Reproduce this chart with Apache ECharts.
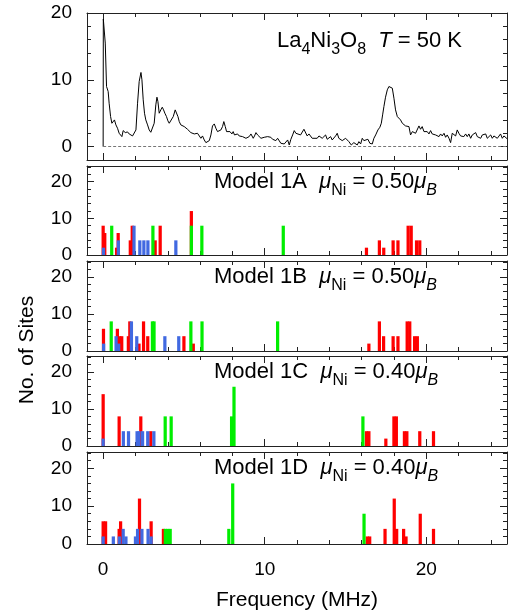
<!DOCTYPE html>
<html><head><meta charset="utf-8">
<script src="https://cdn.jsdelivr.net/npm/echarts@6/dist/echarts.min.js"></script>
<style>html,body{margin:0;padding:0;background:#fff}#c{width:508px;height:614px}</style>
</head><body><div id="c"></div>
<script>
// ---- measured spectrum (La4Ni3O8, T = 50 K) ----
const specFreq = [0,0.01,0.06,0.13,0.21,0.31,0.37,0.46,0.54,0.62,0.70,0.79,0.89,0.99,1.16,1.24,1.37,1.51,1.61,1.72,1.82,1.92,2.03,2.13,2.23,2.34,2.40,2.48,2.56,2.64,2.75,2.85,2.95,3.06,3.16,3.26,3.33,3.39,3.47,3.57,3.66,3.74,3.82,3.92,4.01,4.09,4.21,4.34,4.46,4.54,4.63,4.71,4.81,4.92,5.02,5.12,5.22,5.33,5.43,5.53,5.64,5.74,5.84,5.95,6.05,6.15,6.26,6.36,6.46,6.57,6.67,6.77,6.88,6.98,7.08,7.19,7.29,7.39,7.47,7.56,7.64,7.76,7.85,7.97,8.05,8.13,8.22,8.32,8.42,8.53,8.63,8.73,8.84,8.94,9.04,9.15,9.21,9.29,9.37,9.46,9.56,9.66,9.77,9.87,9.97,10.07,10.18,10.28,10.38,10.49,10.59,10.69,10.80,10.90,11.00,11.11,11.21,11.31,11.42,11.52,11.62,11.73,11.83,11.93,12.04,12.22,12.43,12.53,12.63,12.74,12.94,13.05,13.25,13.36,13.56,13.77,13.87,14.08,14.18,14.39,14.49,14.59,14.80,15.01,15.21,15.36,15.52,15.73,15.83,15.94,16.04,16.14,16.25,16.39,16.51,16.66,16.76,16.87,17.01,17.13,17.22,17.30,17.38,17.48,17.59,17.69,17.79,17.90,18.00,18.10,18.21,18.31,18.41,18.52,18.62,18.72,18.83,18.93,19.03,19.14,19.24,19.34,19.44,19.55,19.65,19.75,19.86,19.96,20.06,20.17,20.27,20.37,20.48,20.58,20.68,20.79,20.89,20.99,21.10,21.20,21.30,21.41,21.51,21.61,21.71,21.82,21.92,22.02,22.13,22.23,22.33,22.44,22.54,22.64,22.75,22.85,22.95,23.06,23.16,23.26,23.37,23.47,23.57,23.68,23.78,23.88,23.99,24.09,24.19,24.30,24.40,24.60,24.71,24.81,24.91,25.00];
const specAmp = [0,19.1,19.0,15.5,9.0,8.25,6.5,4.5,3.5,3.75,4.0,3.25,2.75,2.0,1.5,2.4,2.1,2.2,1.9,2.1,1.6,1.75,2.5,6.5,9.75,11.1,10.0,7.0,5.0,4.0,3.25,2.5,2.15,2.25,3.5,6.25,7.4,6.75,5.0,5.5,5.9,5.5,5.0,4.5,3.85,3.5,3.6,4.5,5.5,5.6,4.5,3.75,3.25,3.5,3.0,2.75,2.6,2.4,2.1,2.1,1.9,1.75,2.0,1.75,1.25,1.6,1.0,0.6,0.5,0.9,1.75,3.1,3.4,2.75,2.25,2.0,2.5,3.0,3.75,3.0,2.25,2.1,2.25,1.9,2.25,1.75,1.5,1.9,1.6,1.75,1.5,1.75,1.25,1.0,1.5,1.9,2.1,1.25,1.6,2.1,1.75,1.6,1.25,1.0,1.4,1.25,1.5,1.25,1.4,1.1,1.25,0.9,1.25,1.0,0.5,0.75,0.4,0.6,1.0,0.25,1.1,1.75,2.4,2.0,2.1,1.75,2.6,2.75,1.6,1.9,1.25,1.5,1.25,1.6,1.25,1.75,1.1,1.5,1.0,1.6,2.0,1.25,0.9,1.25,0.75,0.25,0.6,0.25,0.75,0.4,1.25,0.9,0.75,1.1,0.5,0.4,1.25,1.75,2.5,2.9,3.5,4.75,6.0,7.4,8.5,9.0,9.1,8.75,7.25,5.5,4.5,4.25,4.0,3.5,3.4,3.1,3.25,3.0,1.75,2.25,2.4,2.0,2.1,3.1,2.6,3.0,2.25,2.0,2.25,1.9,2.4,1.9,2.1,1.75,2.0,1.5,1.9,1.6,2.0,1.4,1.75,1.25,0.6,2.0,1.9,1.6,2.5,2.0,1.6,1.75,1.5,1.9,1.5,1.9,1.25,1.75,1.6,2.1,1.5,1.6,1.25,1.75,1.5,1.9,1.25,1.5,1.75,1.25,1.6,1.4,1.25,1.9,1.25,1.6,1.4,1.2];

// ---- model histograms: [frequency (MHz), no. of sites] ----
const m1A_red = [[0.0,8],[0.1,6],[0.83,2],[0.93,6],[1.68,4],[1.8,8],[3.22,4],[3.53,8],[5.46,12],[16.3,2],[17.1,4],[17.37,2],[17.95,4],[18.25,4],[18.88,8],[19.07,8],[19.4,4],[19.6,4]];
const m1A_green = [[0.53,8],[3.08,8],[5.46,8],[6.11,8],[11.15,8]];
const m1A_blue = [[0.02,2],[0.94,4],[1.91,8],[2.27,4],[2.52,4],[2.77,4],[4.5,4]];

const m1B_red = [[0.02,6],[0.88,6],[1.02,4],[1.15,4],[1.56,4],[1.65,8],[2.22,2],[2.5,8],[2.76,4],[5.0,4],[5.58,2],[16.45,2],[17.1,8],[17.36,4],[17.95,4],[18.25,4],[18.82,8],[18.98,8],[19.28,4],[19.45,4]];
const m1B_green = [[0.5,8],[3.05,8],[3.15,8],[5.43,8],[6.12,8],[10.8,8]];
const m1B_blue = [[0.03,2],[0.8,4],[0.96,2],[1.75,8],[2.08,4],[3.82,4],[4.68,4]];

const m1C_red = [[0.0,14],[0.99,8],[2.33,8],[2.95,4],[16.3,4],[16.45,4],[17.5,2],[18.0,8],[18.15,8],[18.65,4],[18.8,4],[19.6,4],[20.45,4]];
const m1C_green = [[3.84,8],[4.21,8],[7.95,8],[8.1,16],[16.08,8]];
const m1C_blue = [[0.0,2],[1.25,4],[1.57,4],[2.1,4],[2.22,4],[2.44,4],[2.76,4],[3.14,4]];

const m1D_red = [[0.0,6],[0.15,6],[0.99,4],[1.08,6],[2.25,12],[2.97,6],[3.73,4],[16.35,2],[16.5,2],[17.45,4],[18.02,12],[18.17,4],[18.6,4],[18.75,2],[19.63,8],[20.45,4]];
const m1D_green = [[3.85,4],[4.0,4],[4.15,4],[7.78,4],[8.02,16],[16.15,8]];
const m1D_blue = [[0.0,2],[0.63,2],[1.0,2],[1.24,4],[1.41,2],[2.0,2],[2.13,4],[2.4,4],[2.78,4],[2.97,2]];

// ---- ticks / labels ----
const xMajorTicks = [0,10,20];
const xMinorTicks = [0,2,4,6,8,10,12,14,16,18,20,22,24];
const xTickLabels = [0,10,20];
const yMajorTicks = [0,10,20];
const yMinorTicksTop = [0,2,4,6,8,10,12,14,16,18,20];
const yMinorTicksModel = [0,2,4,6,8,10,12,14,16,18,20,22,24];
const yTickLabels = [0,10,20];

const modelNames = ['1A','1B','1C','1D'];
const modelMu = ['0.50','0.50','0.40','0.40'];
const modelRed = [m1A_red,m1B_red,m1C_red,m1D_red];
const modelGreen = [m1A_green,m1B_green,m1C_green,m1D_green];
const modelBlue = [m1A_blue,m1B_blue,m1C_blue,m1D_blue];

const FONT = '"Liberation Sans", Arial, Helvetica, sans-serif';
const LEFT = 87, WIDTH = 420;
const panels = [
  {top:13, height:147, ymin:-2, ymax:20, minor:yMinorTicksTop},
  {top:166, height:89, ymin:0, ymax:24.3, minor:yMinorTicksModel},
  {top:261, height:90, ymin:0, ymax:24.3, minor:yMinorTicksModel},
  {top:356, height:90, ymin:0, ymax:24.3, minor:yMinorTicksModel},
  {top:452, height:92, ymin:0, ymax:24.3, minor:yMinorTicksModel}
];
const COL = {red:'#ff0000', green:'#00ee00', blue:'#4169e1'};
const BW = 0.2;

const grid = [], xAxis = [], yAxis = [], series = [];
// g 0..4 main (frame + major ticks), 5..9 overlay (minor ticks)
for (let g = 0; g < 10; g++) {
  const p = panels[g % 5];
  const major = g < 5;
  grid.push({left:LEFT, width:WIDTH, top:p.top, height:p.height, show:false});
  ['bottom','top'].forEach(pos => {
    const showLab = major && g === 4 && pos === 'bottom';
    xAxis.push({
      type:'value', gridIndex:g, position:pos, min:-1, max:25,
      axisLine:{show:major, onZero:false, lineStyle:{color:'#222', width:1}},
      axisTick:{show:true, inside:true, length: major ? 7 : 4, customValues: major ? xMajorTicks : xMinorTicks, lineStyle:{color:'#222', width:1}},
      axisLabel:{show:showLab, customValues:xTickLabels, fontSize:19, color:'#000', fontFamily:FONT, margin:16},
      splitLine:{show:false}
    });
  });
  ['left','right'].forEach(pos => {
    const showLab = major && pos === 'left';
    yAxis.push({
      type:'value', gridIndex:g, position:pos, min:p.ymin, max:p.ymax,
      axisLine:{show:major, onZero:false, lineStyle:{color:'#222', width:1}},
      axisTick:{show:true, inside:true, length: major ? 7 : 4, customValues: major ? yMajorTicks : p.minor, lineStyle:{color:'#222', width:1}},
      axisLabel:{show:showLab, customValues:yTickLabels, fontSize:19, color:'#000', fontFamily:FONT, margin:15},
      splitLine:{show:false}
    });
  });
}

// spectrum line
series.push({
  type:'line', xAxisIndex:0, yAxisIndex:0,
  data: specFreq.map((f,i) => [f, specAmp[i]]),
  showSymbol:false, symbol:'none', lineStyle:{color:'#000', width:1}, animation:false,
  markLine:{silent:true, symbol:'none', label:{show:false},
    lineStyle:{color:'#777', type:[3,2], width:1},
    data:[[{coord:[0,0]},{coord:[25,0]}]]}
});

function barSeries(data, color, g) {
  return {
    type:'custom', xAxisIndex:2*g, yAxisIndex:2*g, clip:true, animation:false,
    data: data,
    renderItem: function(params, api) {
      const x = api.value(0), h = api.value(1);
      const a = api.coord([x - BW/2, h]);
      const b = api.coord([x + BW/2, 0]);
      return {type:'rect', shape:{x:a[0], y:a[1], width:b[0]-a[0], height:b[1]-a[1]}, style:{fill:color}};
    }
  };
}
for (let m = 0; m < 4; m++) {
  series.push(barSeries(modelRed[m], COL.red, m+1));
  series.push(barSeries(modelGreen[m], COL.green, m+1));
  series.push(barSeries(modelBlue[m], COL.blue, m+1));
}

const richBase = {
  n:{fontSize:22, fontFamily:FONT, color:'#000', lineHeight:34, verticalAlign:'middle'},
  i:{fontSize:22, fontFamily:FONT, fontStyle:'italic', color:'#000', lineHeight:34, verticalAlign:'middle'},
  s:{fontSize:16, fontFamily:FONT, color:'#000', lineHeight:34, verticalAlign:'bottom'},
  si:{fontSize:16, fontFamily:FONT, fontStyle:'italic', color:'#000', lineHeight:34, verticalAlign:'bottom'}
};

const graphic = [];
graphic.push({type:'text', x:277, y:24, style:{
  text:'{n|La}{s|4}{n|Ni}{s|3}{n|O}{s|8}{n|  }{i|T}{n| = 50 K}', rich:richBase, verticalAlign:'top'}});
for (let m = 0; m < 4; m++) {
  const p = panels[m+1];
  graphic.push({type:'text', x:214, y:p.top - 1.5, style:{
    text:'{n|Model ' + modelNames[m] + '  }{i|μ}{s|Ni}{n| = ' + modelMu[m] + '}{i|μ}{si|B}', rich:richBase, verticalAlign:'top'}});
}
graphic.push({type:'text', x:27, y:350, rotation:Math.PI/2, style:{
  text:'No. of Sites', fontSize:21, fontFamily:FONT, fill:'#000', align:'center', verticalAlign:'middle'}});
graphic.push({type:'text', x:297, y:600, style:{
  text:'Frequency (MHz)', fontSize:21, fontFamily:FONT, fill:'#000', align:'center', verticalAlign:'middle'}});

const chart = echarts.init(document.getElementById('c'), null, {renderer:'canvas'});
chart.setOption({animation:false, backgroundColor:'#fff', grid, xAxis, yAxis, series, graphic});
</script>
</body></html>
